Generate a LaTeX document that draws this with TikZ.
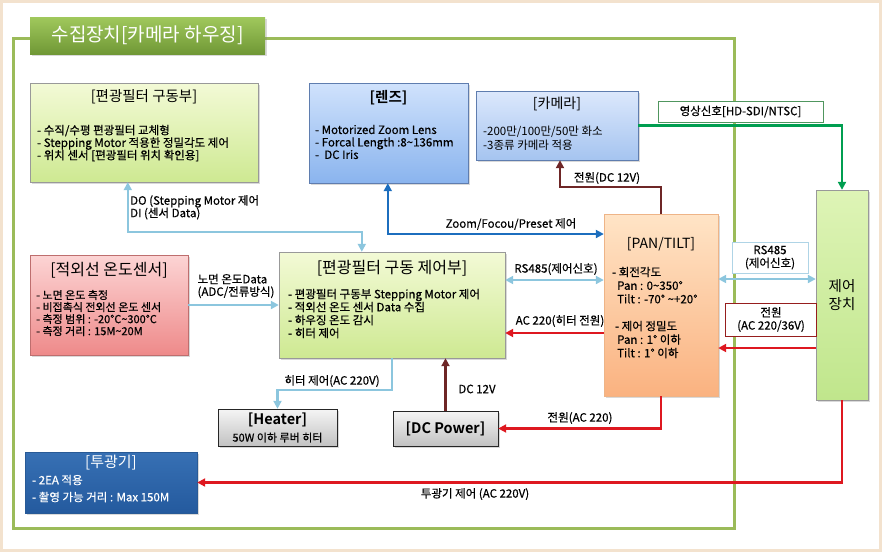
\documentclass[tikz,border=0pt]{standalone}
\usepackage{fontspec}
\setmainfont{Noto Sans CJK KR}[BoldFont={Noto Sans CJK KR Bold}]
\newfontfamily\medfont{Noto Sans CJK KR}[FakeBold=0.45]
\usetikzlibrary{arrows.meta}
\usetikzlibrary{shadows}
\definecolor{rand}{RGB}{243,226,206}
\definecolor{rahmen}{RGB}{155,187,89}
\definecolor{lblue}{RGB}{140,198,222}
\definecolor{dblue}{RGB}{28,110,190}
\definecolor{pwred}{RGB}{222,24,32}
\definecolor{brn}{RGB}{110,38,38}
\definecolor{vidgrn}{RGB}{0,158,80}
\definecolor{dkred}{RGB}{150,30,30}

\begin{document}
\begin{tikzpicture}[x=1pt,y=-1pt,
	box/.style={draw, inner sep=0pt, drop shadow={opacity=0.3,shadow xshift=1.5pt,shadow yshift=-1.5pt}},
	gbox/.style={box, draw=black!40, top color={rgb,255:red,243;green,250;blue,214}, bottom color={rgb,255:red,206;green,233;blue,146}},
	bbox/.style={box, draw={rgb,255:red,95;green,125;blue,175}, top color={rgb,255:red,208;green,226;blue,252}, bottom color={rgb,255:red,138;green,180;blue,238}},
	hd/.style={inner sep=0pt, font=\fontsize{14.5}{16}\selectfont},
	body/.style={anchor=north west, align=left, inner sep=0pt, font=\medfont\fontsize{11.5}{12.5}\selectfont},
	lbl/.style={inner sep=0pt, align=left, font=\medfont\fontsize{11.5}{12.5}\selectfont},
	tag/.style={draw, fill=white, inner sep=0pt, align=center, font=\medfont\fontsize{11.5}{13}\selectfont},
	line/.style={line width=2.2pt},
	arr/.style={line, -{Triangle[length=8pt,width=8pt]}},
	biarr/.style={line, {Triangle[length=8pt,width=8pt]}-{Triangle[length=8pt,width=8pt]}}]
	\useasboundingbox (0,0) rectangle (882,552);
	\draw[rand, line width=3pt] (1.5,1.5) rectangle (880.5,550.5);
	\draw[rahmen, line width=3pt] (13,38) rectangle (734,528);
	\node[box, draw=none, minimum width=235pt, minimum height=37pt, top color={rgb,255:red,160;green,200;blue,92}, bottom color={rgb,255:red,112;green,152;blue,54}, text=white, font=\fontsize{19}{19}\selectfont] (ttl) at (147.5,35.5) {수집장치[카메라 하우징]};

	\node[gbox, minimum width=228pt, minimum height=99pt] (drv) at (144,132.5) {};
	\node[hd] (drvT) at (144,97) {[편광필터 구동부]};
	\node[body] (drvB) at (37,124.6) {- 수직/수평 편광필터 교체형\\- Stepping Motor 적용한 정밀각도 제어\\- 위치 센서 [편광필터 위치 확인용]};

	\node[bbox, minimum width=159pt, minimum height=100pt] (lens) at (388.5,133) {};
	\node[hd, font=\bfseries\fontsize{14.5}{16}\selectfont] (lensT) at (388.5,98) {[렌즈]};
	\node[body] (lensB) at (315,124.6) {- Motorized Zoom Lens\\- Forcal Length :8\textasciitilde 136mm\\-\ \ DC Iris};

	\node[bbox, minimum width=162pt, minimum height=69pt, top color={rgb,255:red,220;green,232;blue,252}, bottom color={rgb,255:red,165;green,196;blue,240}] (cam) at (557,125.5) {};
	\node[hd, font=\fontsize{14}{16}\selectfont] (camT) at (557,104) {[카메라]};
	\node[body, font=\fontsize{11.5}{14}\selectfont] (camB) at (483,125.6) {-200만/100만/50만 화소\\-3종류 카메라 적용};

	\node[box, draw={rgb,255:red,190;green,110;blue,110}, minimum width=158pt, minimum height=100pt, top color={rgb,255:red,252;green,212;blue,212}, bottom color={rgb,255:red,238;green,138;blue,138}] (ir) at (109,305) {};
	\node[hd, font=\fontsize{16}{18}\selectfont] (irT) at (109,270) {[적외선 온도센서]};
	\node[body, font=\medfont\fontsize{11}{12}\selectfont] (irB) at (36,289.8) {- 노면 온도 측정\\- 비접촉식 전외선 온도 센서\\- 측정 범위 : -20°C\textasciitilde 300°C\\- 측정 거리 : 15M\textasciitilde 20M};

	\node[gbox, minimum width=226pt, minimum height=106pt] (ctl) at (392,305) {};
	\node[hd, font=\fontsize{16}{18}\selectfont] (ctlT) at (392,268) {[편광필터 구동 제어부]};
	\node[body, font=\medfont\fontsize{11.5}{13}\selectfont] (ctlB) at (288,288.6) {- 편광필터 구동부 Stepping Motor 제어\\- 적외선 온도 센서 Data 수집\\- 하우징 온도 감시\\- 히터 제어};

	\node[box, draw={rgb,255:red,238;green,180;blue,135}, minimum width=114pt, minimum height=182pt, top color={rgb,255:red,255;green,228;blue,198}, bottom color={rgb,255:red,250;green,178;blue,128}] (pan) at (661,305) {};
	\node[hd, font=\fontsize{14}{16}\selectfont] (panT) at (661,244) {[PAN/TILT]};
	\node[body, font=\medfont\fontsize{11.5}{13.5}\selectfont] (panB) at (612,266.6) {- 회전각도\\\hspace*{5pt}Pan : 0\textasciitilde 350°\\\hspace*{5pt}Tilt : -70°\ \textasciitilde +20°\\[13.5pt]\hspace*{3pt}- 제어 정밀도\\\hspace*{5pt}Pan : 1° 이하\\\hspace*{5pt}Tilt : 1° 이하};

	\node[gbox, minimum width=52pt, minimum height=210pt, top color={rgb,255:red,222;green,244;blue,182}, bottom color={rgb,255:red,192;green,230;blue,140}, align=center, font=\fontsize{14.5}{18}\selectfont] (ctrl) at (842,295) {제어\\장치};

	\node[box, draw=black!85, minimum width=119pt, minimum height=37pt, top color=black!4, bottom color=black!24] (heat) at (277.5,427.5) {};
	\node[hd, font=\bfseries\fontsize{14.5}{16}\selectfont] (heatT) at (277.5,420) {[Heater]};
	\node[hd, font=\medfont\fontsize{11}{12}\selectfont] (heatB) at (277.5,437.5) {50W 이하 루버 히터};

	\node[box, draw=black!85, minimum width=105pt, minimum height=35pt, top color=black!4, bottom color=black!24, font=\bfseries\fontsize{14.5}{16}\selectfont] (dcp) at (445.5,428.5) {[DC Power]};

	\node[box, draw={rgb,255:red,40;green,90;blue,150}, minimum width=172pt, minimum height=61pt, top color={rgb,255:red,55;green,112;blue,180}, bottom color={rgb,255:red,36;green,90;blue,158}] (proj) at (111,482.5) {};
	\node[hd, text=white, font=\fontsize{15}{16}\selectfont] (projT) at (111,463) {[투광기]};
	\node[body, text=white, font=\medfont\fontsize{11.5}{17}\selectfont] (projB) at (32,474.6) {- 2EA 적용\\- 촬영 가능 거리 : Max 150M};

	\draw[lblue, biarr] ([xshift=98pt]drv.south west) -- ++(0,50) -| ([xshift=83pt]ctl.north west);
	\node[lbl, anchor=north west] (dioL) at (130,195) {DO (Stepping Motor 제어\\DI (센서 Data)};
	\draw[dblue, biarr] ([xshift=79pt]lens.south west) |- (pan.west |- 0,234);
	\node[lbl] (zfpL) at (511,224) {Zoom/Focou/Preset 제어};
	\draw[brn, arr] (pan.north) -- ++(0,-27) -| (cam.south -| 560,0);
	\node[lbl] (dcvL) at (607,178) {전원(DC 12V)};
	\draw[vidgrn, arr] (cam.east) -| (ctrl.north);
	\node[tag, draw={rgb,255:red,80;green,150;blue,95}, minimum width=165pt, minimum height=21pt] (vidT) at (740.5,111.5) {영상신호[HD-SDI/NTSC]};
	\draw[lblue, arr] (ir.east) -- (ctl.west);
	\node[lbl] (tmpL) at (236,286) {노면 온도Data\\(ADC/전류방식)};
	\draw[lblue, biarr] (ctl.east |- 0,280) -- (pan.west |- 0,280);
	\node[lbl] (rs1L) at (556,269) {RS485(제어신호)};
	\draw[pwred, arr] (pan.west |- 0,333) -- (ctl.east |- 0,333);
	\node[lbl] (htpL) at (560,321) {AC 220(히터 전원)};
	\draw[lblue, biarr] (pan.east |- 0,279) -- (ctrl.west |- 0,279);
	\node[tag, draw={rgb,255:red,175;green,212;blue,230}, minimum width=76pt, minimum height=31pt] (rs2T) at (770,257.5) {RS485\\(제어신호)};
	\draw[pwred, arr] (ctrl.west |- 0,348) -- (pan.east |- 0,348);
	\node[tag, draw=dkred, minimum width=91pt, minimum height=33pt] (pwT) at (771,319.5) {전원\\(AC 220/36V)};
	\draw[lblue, arr] (ctl.south) -- ++(0,32) -| (heat.north);
	\node[lbl] (htcL) at (332,381) {히터 제어(AC 220V)};
	\draw[brn, arr] (dcp.north) -- (dcp.north |- ctl.south);
	\node[lbl] (d12L) at (477,389) {DC 12V};
	\draw[pwred, arr] (pan.south) |- (dcp.east);
	\node[lbl] (acL) at (580,418) {전원(AC 220)};
	\draw[pwred, arr] (ctrl.south) |- (proj.east);
	\node[lbl] (prjL) at (475,494) {투광기 제어 (AC 220V)};
\end{tikzpicture}
\end{document}
